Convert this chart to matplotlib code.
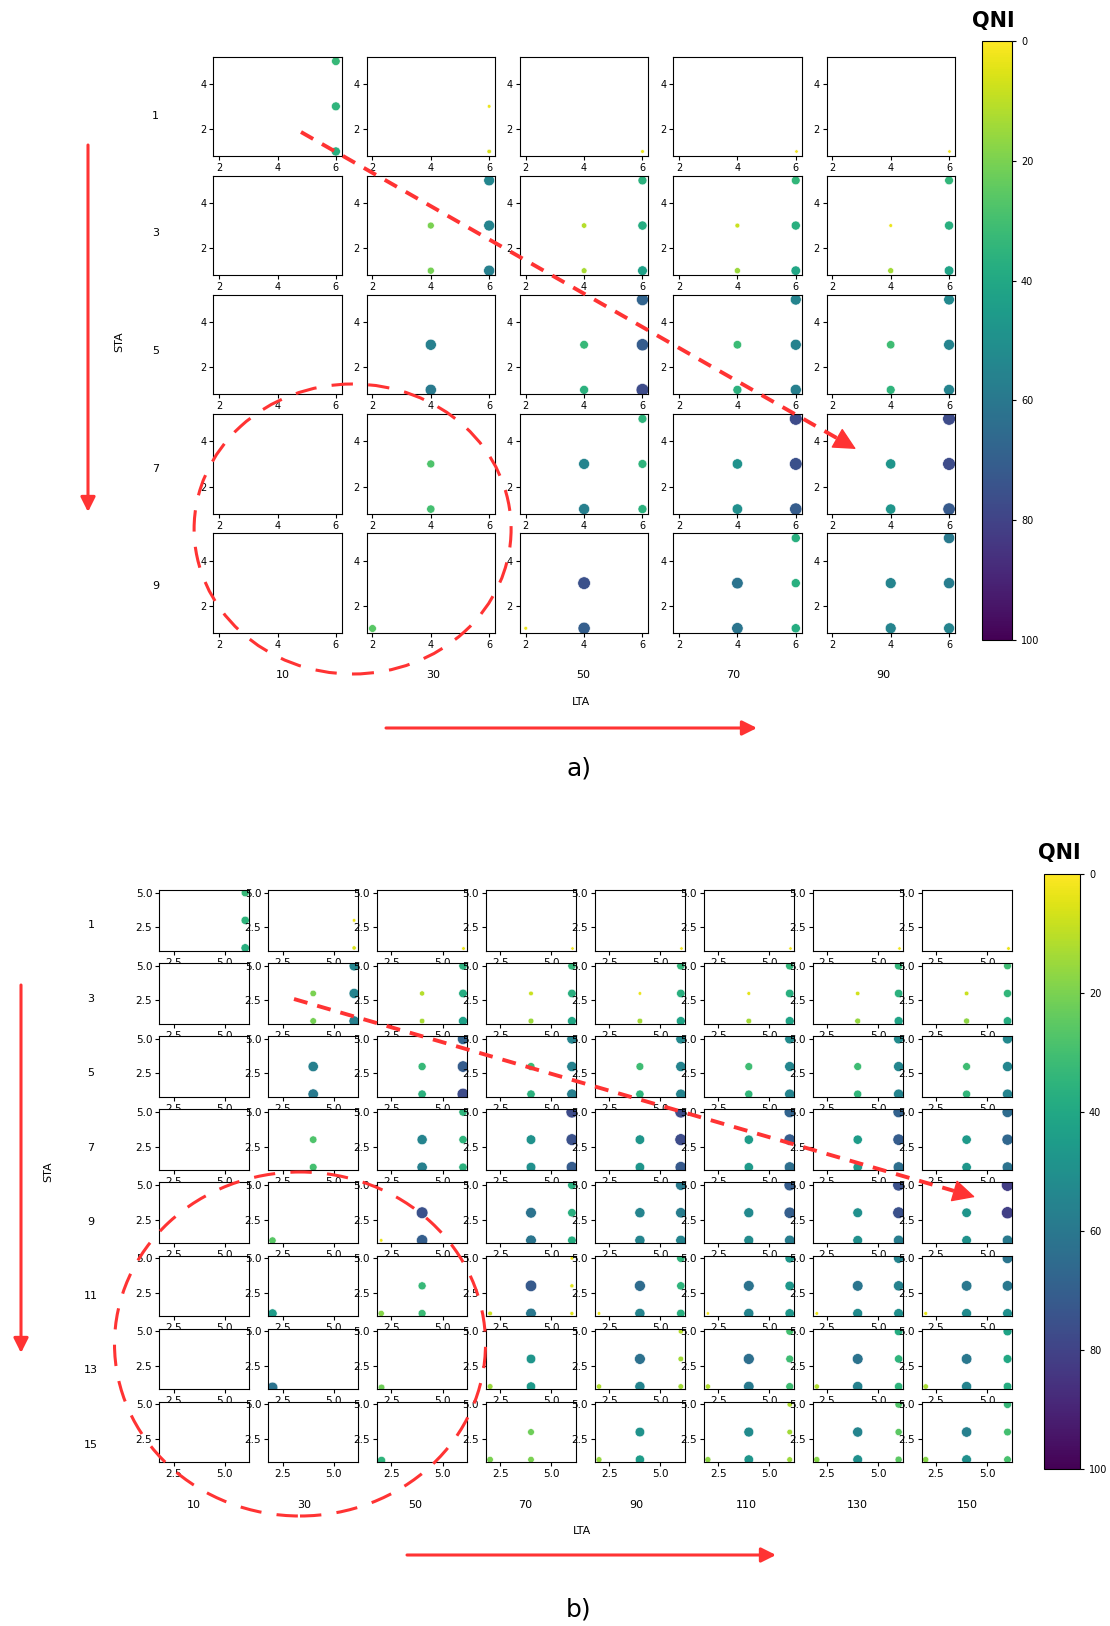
#!/usr/bin/python3

"""QNI for STA/LTA window pairs, two grids of small scatter plots."""

import numpy as np
import matplotlib
matplotlib.use('Agg')
import matplotlib.pyplot as plt
from matplotlib.cm import ScalarMappable
from matplotlib.colors import Normalize
from matplotlib.lines import Line2D
from matplotlib.patches import Ellipse, FancyArrowPatch

W, H = 1110, 1626
RED = '#ff3333'
N = np.nan

STA = [1, 3, 5, 7, 9, 11, 13, 15]
LTA = [10, 30, 50, 70, 90, 110, 130, 150]

# the nine positions inside each small plot
PX = [2, 2, 2, 4, 4, 4, 6, 6, 6]
PY = [1, 3, 5, 1, 3, 5, 1, 3, 5]

# one list per STA row, one entry per LTA column, values in PX/PY order
QNI_STA1 = [
    [N, N, N, N, N, N, 37, 35, 33],
    [N, N, N, N, N, N, 6, 3, N],
    [N, N, N, N, N, N, 3, N, N],
    [N, N, N, N, N, N, 2, N, N],
    [N, N, N, N, N, N, 2, N, N],
    [N, N, N, N, N, N, 2, N, N],
    [N, N, N, N, N, N, 2, N, N],
    [N, N, N, N, N, N, 3, N, N],
]
QNI_STA3 = [
    [N, N, N, N, N, N, N, N, N],
    [N, N, N, 21, 20, N, 57, 55, 54],
    [N, N, N, 13, 11, N, 43, 38, 36],
    [N, N, N, 15, 8, N, 41, 37, 34],
    [N, N, N, 14, 3, N, 42, 37, 34],
    [N, N, N, 14, 4, N, 42, 37, 34],
    [N, N, N, 16, 7, N, 42, 36, 34],
    [N, N, N, 17, 8, N, 38, 34, 31],
]
QNI_STA5 = [
    [N, N, N, N, N, N, N, N, N],
    [N, N, N, 59, 57, N, N, N, N],
    [N, N, N, 36, 33, N, 77, 71, 68],
    [N, N, N, 36, 32, N, 57, 56, 55],
    [N, N, N, 35, 31, N, 55, 55, 53],
    [N, N, N, 34, 31, N, 55, 54, 52],
    [N, N, N, 34, 31, N, 55, 54, 52],
    [N, N, N, 34, 31, N, 55, 54, 53],
]
QNI_STA7 = [
    [N, N, N, N, N, N, N, N, N],
    [N, N, N, 30, 28, N, N, N, N],
    [N, N, N, 57, 55, N, 36, 35, 35],
    [N, N, N, 50, 49, N, 71, 75, 77],
    [N, N, N, 48, 48, N, 72, 77, 77],
    [N, N, N, 46, 45, N, 64, 71, 68],
    [N, N, N, 46, 45, N, 64, 71, 69],
    [N, N, N, 47, 46, N, 62, 67, 65],
]
QNI_STA9 = [
    [N, N, N, N, N, N, N, N, N],
    [26, N, N, N, N, N, N, N, N],
    [3, N, N, 70, 75, N, N, N, N],
    [N, N, N, 61, 62, N, 38, 37, 37],
    [N, N, N, 55, 55, N, 55, 58, 59],
    [N, N, N, 52, 53, N, 58, 70, 71],
    [N, N, N, 50, 50, N, 58, 75, 75],
    [N, N, N, 49, 48, N, 59, 81, 82],
]
QNI_STA11 = [
    [N, N, N, N, N, N, N, N, N],
    [45, N, N, N, N, N, N, N, N],
    [18, N, N, 32, 33, N, N, N, N],
    [8, N, N, 60, 72, N, 5, 5, 3],
    [3, N, N, 55, 65, N, 37, 35, 35],
    [2, N, N, 55, 62, N, 47, 47, 47],
    [3, N, N, 52, 61, N, 50, 56, 55],
    [4, N, N, 52, 60, N, 50, 60, 61],
]
QNI_STA13 = [
    [N, N, N, N, N, N, N, N, N],
    [62, N, N, N, N, N, N, N, N],
    [22, N, N, N, N, N, N, N, N],
    [15, N, N, 46, 48, N, N, N, N],
    [12, N, N, 55, 63, N, 14, 14, 11],
    [12, N, N, 59, 64, N, 31, 31, 30],
    [12, N, N, 56, 62, N, 35, 35, 38],
    [13, N, N, 55, 60, N, 38, 40, 42],
]
QNI_STA15 = [
    [N, N, N, N, N, N, N, N, N],
    [N, N, N, N, N, N, N, N, N],
    [35, N, N, N, N, N, N, N, N],
    [20, N, N, 20, 22, N, N, N, N],
    [16, N, N, 45, 49, N, N, N, N],
    [17, N, N, 48, 52, N, 15, 14, 12],
    [18, N, N, 50, 55, N, 25, 25, 27],
    [18, N, N, 50, 57, N, 29, 30, 33],
]
ROWS = [QNI_STA1, QNI_STA3, QNI_STA5, QNI_STA7,
        QNI_STA9, QNI_STA11, QNI_STA13, QNI_STA15]


def fx(px):
    return px / W


def fy(py):
    return 1 - py / H


def draw_grid(fig, n, left0, dx, w, top0, dy, h, ticks, fontsize, size_k):
    px = np.array(PX)
    py = np.array(PY)
    for j in range(n):
        for i in range(n):
            ax = fig.add_axes([fx(left0 + i * dx), fy(top0 + j * dy + h), w / W, h / H])
            q = np.array(ROWS[j][i], dtype=float)
            m = ~np.isnan(q)
            ax.scatter(px[m], py[m], c=q[m], s=q[m] * size_k + 4, cmap='viridis_r',
                       vmin=0, vmax=100, edgecolors='white', linewidths=0.4)
            ax.set_xlim(1.8, 6.2)
            ax.set_ylim(0.8, 5.2)
            ax.set_xticks(ticks[0])
            ax.set_yticks(ticks[1])
            ax.tick_params(labelsize=fontsize, length=3, width=0.8, pad=2)


def draw_colorbar(fig, x, top, w, h, title_x, title_y):
    cax = fig.add_axes([fx(x), fy(top + h), w / W, h / H])
    cb = fig.colorbar(ScalarMappable(Normalize(0, 100), 'viridis_r'), cax=cax)
    cax.invert_yaxis()
    cb.set_ticks([0, 20, 40, 60, 80, 100])
    cax.tick_params(labelsize=7, length=3)
    fig.text(fx(title_x), fy(title_y), 'QNI', fontsize=15, fontweight='bold',
             ha='center', va='center')


def labels(fig, n, row_x, row_y, col_x, col_y, sta_xy, lta_xy):
    for k, y in enumerate(np.linspace(row_y[0], row_y[1], n)):
        fig.text(fx(row_x), fy(y), str(STA[k]), fontsize=8, ha='center', va='center')
    for k, x in enumerate(np.linspace(col_x[0], col_x[1], n)):
        fig.text(fx(x), fy(col_y), str(LTA[k]), fontsize=8, ha='center', va='center')
    fig.text(fx(sta_xy[0]), fy(sta_xy[1]), 'STA', fontsize=8, rotation=90,
             ha='center', va='center')
    fig.text(fx(lta_xy[0]), fy(lta_xy[1]), 'LTA', fontsize=8, ha='center', va='center')


def solid_arrow(fig, p0, p1):
    fig.patches.append(FancyArrowPatch(
        (fx(p0[0]), fy(p0[1])), (fx(p1[0]), fy(p1[1])), transform=fig.transFigure,
        arrowstyle='-|>', mutation_scale=22, color=RED, lw=2.2,
        shrinkA=0, shrinkB=0, zorder=5))


def dashed_arrow(fig, p0, p1):
    d = np.array(p1, dtype=float) - np.array(p0, dtype=float)
    d = d / np.hypot(*d)
    back = np.array(p1) - d * 22
    fig.lines.append(Line2D([fx(p0[0]), fx(back[0])], [fy(p0[1]), fy(back[1])],
                            transform=fig.transFigure, color=RED, lw=2.8,
                            linestyle=(0, (3.6, 2.6)), zorder=5))
    fig.patches.append(FancyArrowPatch(
        (fx(back[0]), fy(back[1])), (fx(p1[0]), fy(p1[1])), transform=fig.transFigure,
        arrowstyle='-|>', mutation_scale=36, color=RED, lw=1,
        shrinkA=0, shrinkB=0, zorder=5))


def dashed_ellipse(fig, center, w, h):
    fig.patches.append(Ellipse((fx(center[0]), fy(center[1])), w / W, h / H,
                               transform=fig.transFigure, fill=False, edgecolor=RED,
                               lw=2.2, linestyle=(0, (7, 5)), zorder=5))


def main():
    fig = plt.figure(figsize=(W / 100, H / 100), dpi=100)

    # panel a: 5 x 5
    draw_grid(fig, 5, 213.3, 153.3, 128.4, 56.7, 119.2, 99.3,
              ([2, 4, 6], [2, 4]), 7, 1.05)
    draw_colorbar(fig, 982, 41, 30, 599, 993, 21)
    labels(fig, 5, 155.6, (116, 586), (283, 883.5), 675, (119, 342), (581, 702))
    solid_arrow(fig, (88, 145), (88, 512))
    solid_arrow(fig, (386, 728), (757, 728))
    dashed_arrow(fig, (301, 132), (856, 449))
    dashed_ellipse(fig, (352.6, 529), 317, 290)
    fig.text(fx(578.6), fy(768), 'a)', fontsize=18, ha='center', va='center')

    # panel b: 8 x 8
    draw_grid(fig, 8, 159.3, 108.9, 90, 890, 73.1, 60.7,
              ([2.5, 5.0], [2.5, 5.0]), 7.5, 0.9)
    draw_colorbar(fig, 1044, 874, 36, 595, 1059, 853)
    labels(fig, 8, 91, (925, 1444.5), (194, 967.5), 1505, (48.7, 1172), (582, 1531))
    solid_arrow(fig, (21, 985), (21, 1353))
    solid_arrow(fig, (407, 1555), (776, 1555))
    dashed_arrow(fig, (294, 999), (975, 1197))
    dashed_ellipse(fig, (300, 1344), 371, 344)
    fig.text(fx(578.6), fy(1609.5), 'b)', fontsize=18, ha='center', va='center')

    fig.savefig('out.png', dpi=100)


if __name__ == '__main__':
    main()
